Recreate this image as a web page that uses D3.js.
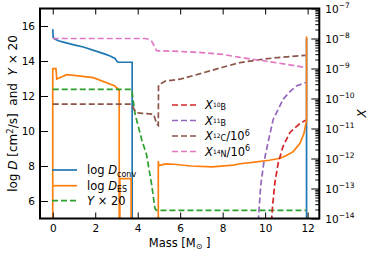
<!DOCTYPE html>
<html><head><meta charset="utf-8">
<script src="https://cdn.jsdelivr.net/npm/d3@7"></script>
<style>
body{margin:0;background:#fff;}
svg{display:block;font-family:"DejaVu Sans",sans-serif;}
</style></head>
<body><svg id="c" width="374" height="254"></svg>
<script>
// ---- data (mass in Msun) ----
const blueMass = [0, 0.02, 0.1, 0.26, 0.5, 1.0, 1.44, 2.07, 2.5, 2.7, 2.93, 3.04, 3.13, 3.74, 3.74, 11.95, 11.95];
const blueVal  = [15.82, 15.35, 15.25, 15.16, 15.08, 14.92, 14.8, 14.55, 14.38, 14.29, 14.15, 13.96, 13.93, 13.93, 3, 3, 15.3];

const orangeMass = [0, 0, 0.15, 0.19, 0.66, 1.2, 1.91, 2.93, 3.09, 3.13, 3.13, 3.16, 3.16, 3.69, 3.69, 4.97, 4.97, 4.99, 5.3, 5.7, 6.5, 7.5, 8.5, 8.82, 9.5, 10.2, 10.7, 11.0, 11.32, 11.64, 11.83, 11.92, 11.95, 11.95];
const orangeVal  = [3, 13.56, 13.58, 12.97, 13.22, 13.15, 13.05, 12.57, 12.38, 12.3, 3, 3, 7.28, 7.28, 3, 3, 8.28, 8.02, 8.12, 8.1, 8.0, 7.95, 8.05, 8.13, 8.22, 8.33, 8.44, 8.6, 8.82, 9.3, 9.87, 10.44, 10.6, 15.4];

const greenMass = [0, 3.72, 3.87, 4.19, 4.42, 4.66, 4.81, 4.88, 11.92];
const greenVal  = [12.38, 12.38, 11.0, 9.5, 8.63, 6.91, 5.58, 5.47, 5.47];

const redMass = [10.30, 10.35, 10.46, 10.62, 10.85, 11.17, 11.40, 11.60, 11.75, 11.90];
const redX    = [7.9e-15, 2.6e-14, 1.6e-13, 7.4e-13, 2.6e-12, 7.4e-12, 1.05e-11, 1.38e-11, 1.62e-11, 1.9e-11];

const purpleMass = [9.68, 9.72, 9.79, 9.94, 10.15, 10.38, 10.54, 10.85, 11.2, 11.47, 11.9];
const purpleX    = [8e-15, 2.3e-14, 1.23e-13, 7.4e-13, 3.8e-12, 2.0e-11, 3.4e-11, 9.5e-11, 1.8e-10, 2.6e-10, 3.4e-10];

const brownMass = [0, 3.72, 3.9, 4.2, 4.75, 4.9, 4.97, 4.98, 5.3, 6.0, 7.0, 8.0, 8.82, 10.0, 11.0, 11.9];
const brownX    = [6.5e-11, 6.5e-11, 3.4e-11, 3.2e-11, 3.0e-11, 1.4e-11, 1.26e-11, 2.8e-10, 3.8e-10, 4.4e-10, 6.9e-10, 1.1e-9, 1.58e-9, 2.1e-9, 2.45e-9, 2.75e-9];

const pinkMass = [0, 4.34, 4.55, 4.66, 4.81, 4.89, 6.0, 7.0, 8.0, 8.82, 10.0, 11.0, 11.9];
const pinkX    = [1e-8, 1e-8, 9.3e-9, 8.1e-9, 5.1e-9, 3.9e-9, 3.7e-9, 3.4e-9, 2.95e-9, 2.34e-9, 1.78e-9, 1.38e-9, 1.07e-9];

const xTicks = [0, 2, 4, 6, 8, 10, 12];
const yTicks = [6, 8, 10, 12, 14, 16];
const rExps  = [-14, -13, -12, -11, -10, -9, -8, -7];

// ---- layout ----
const L = 40, R = 319.3, T = 8.5, B = 218.5;
const svg = d3.select("#c");
const x = d3.scaleLinear().domain([-0.6, 12.55]).range([L, R]);
const yL = d3.scaleLinear().domain([5, 17]).range([B, T]);
const yR = d3.scaleLog().domain([1e-14, 1e-7]).range([B, T]);

svg.append("clipPath").attr("id","clip").append("rect")
  .attr("x", L).attr("y", T).attr("width", R-L).attr("height", B-T);
const g = svg.append("g").attr("clip-path","url(#clip)");

function lin(ms, vs, color, dash){
  const data = ms.map((m,i)=>[m, vs[i]]);
  g.append("path").datum(data)
    .attr("d", d3.line().x(d=>x(d[0])).y(d=>yL(d[1])))
    .attr("fill","none").attr("stroke",color).attr("stroke-width",1.7)
    .attr("stroke-dasharray", dash||null);
}
function lg(ms, vs, color){
  const data = ms.map((m,i)=>[m, vs[i]]);
  g.append("path").datum(data)
    .attr("d", d3.line().x(d=>x(d[0])).y(d=>yR(d[1])))
    .attr("fill","none").attr("stroke",color).attr("stroke-width",1.7)
    .attr("stroke-dasharray","6,3");
}
const C = {blue:"#1f77b4", orange:"#ff7f0e", green:"#2ca02c", red:"#d62728", purple:"#9467bd", brown:"#8c564b", pink:"#e377c2"};

lin(blueMass, blueVal, C.blue);
lin(orangeMass, orangeVal, C.orange);
lin(greenMass, greenVal, C.green, "6,3");
lg(redMass, redX, C.red);
lg(purpleMass, purpleX, C.purple);
lg(brownMass, brownX, C.brown);
lg(pinkMass, pinkX, C.pink);

// ---- axes ----
const ax = svg.append("g");
const xb = ax.append("g").attr("transform",`translate(0,${B})`)
  .call(d3.axisBottom(x).tickValues(xTicks).tickSizeInner(-6).tickSizeOuter(0).tickPadding(6));
const xt = ax.append("g").attr("transform",`translate(0,${T})`)
  .call(d3.axisTop(x).tickValues(xTicks).tickSizeInner(-6).tickSizeOuter(0).tickFormat(""));
const yl = ax.append("g").attr("transform",`translate(${L},0)`)
  .call(d3.axisLeft(yL).tickValues(yTicks).tickSizeInner(-8).tickSizeOuter(0).tickPadding(5));
const minors = [];
for (let e=-14; e<-7; e++) for (let k=2;k<10;k++) minors.push(k*Math.pow(10,e));
const yrm = ax.append("g").attr("transform",`translate(${R},0)`)
  .call(d3.axisRight(yR).tickValues(minors).tickSizeInner(-4).tickSizeOuter(0).tickFormat(""));
const yr = ax.append("g").attr("transform",`translate(${R},0)`)
  .call(d3.axisRight(yR).tickValues(rExps.map(e=>Math.pow(10,e))).tickSizeInner(-8).tickSizeOuter(0).tickPadding(5).tickFormat(""));
ax.selectAll(".domain").remove();
ax.selectAll(".tick line").attr("stroke","#000").attr("stroke-width",1);
xb.selectAll("text").attr("font-size",10.5).attr("fill","#000").attr("font-family","DejaVu Sans");
yl.selectAll("text").attr("font-size",10.5).attr("fill","#000").attr("font-family","DejaVu Sans");
yr.selectAll(".tick").each(function(d,i){
  const t = d3.select(this).append("text").attr("x",6).attr("dy","0.35em")
    .attr("font-size",10.5).attr("fill","#000").attr("font-family","DejaVu Sans");
  t.append("tspan").text("10");
  t.append("tspan").attr("dy",-4.5).attr("font-size",7.5).text("\u2212"+Math.abs(rExps[i]));
});
svg.append("rect").attr("x",L).attr("y",T).attr("width",R-L).attr("height",B-T)
  .attr("fill","none").attr("stroke","#000").attr("stroke-width",2);

// ---- labels ----
const xl = svg.append("text").attr("x",(L+R)/2).attr("y",246.5).attr("text-anchor","middle")
  .attr("font-size",11.5);
xl.append("tspan").text("Mass [M");
xl.append("tspan").attr("font-size",8).attr("dy",2).text("\u2299");
xl.append("tspan").attr("dy",-2).text("\u00a0]");

const ylab = svg.append("text").attr("transform",`translate(17,${(T+B)/2}) rotate(-90)`)
  .attr("text-anchor","middle").attr("font-size",12);
ylab.append("tspan").text("log\u00a0");
ylab.append("tspan").attr("font-style","italic").text("D");
ylab.append("tspan").text("\u00a0[cm");
ylab.append("tspan").attr("font-size",8.5).attr("dy",-4).text("2");
ylab.append("tspan").attr("dy",4).text("/s]\u00a0\u00a0and\u00a0\u00a0");
ylab.append("tspan").attr("font-style","italic").text("Y");
ylab.append("tspan").text("\u00a0\u00d7\u00a020");

svg.append("text").attr("transform",`translate(362,${(T+B)/2}) rotate(-90)`)
  .attr("text-anchor","middle").attr("dy","0.35em").attr("font-size",12).attr("font-style","italic").text("X");

// ---- legend 1 ----
const leg1 = [
  {c:C.blue, d:null, parts:[["log\u00a0",null],["D","i"],["conv","sub"]]},
  {c:C.orange, d:null, parts:[["log\u00a0",null],["D","i"],["ES","sub"]]},
  {c:C.green, d:"6,3", parts:[["Y","i"],["\u00a0\u00d7\u00a020",null]]}
];
const leg1Y = [170, 185.7, 200.7];
function writeParts(t, parts){
  parts.forEach(p=>{
    const s = t.append("tspan").text(p[0]);
    if(p[1]==="i") s.attr("font-style","italic");
    if(p[1]==="sub") { s.attr("font-size",8).attr("dy",2.5); }
  });
}
leg1.forEach((e,i)=>{
  const yy = leg1Y[i];
  svg.append("line").attr("x1",52).attr("x2",77).attr("y1",yy).attr("y2",yy)
    .attr("stroke",e.c).attr("stroke-width",1.7).attr("stroke-dasharray",e.d);
  const t = svg.append("text").attr("x",87).attr("y",yy).attr("dy","0.35em").attr("font-size",11.5);
  writeParts(t, e.parts);
});

// ---- legend 2 ----
const leg2 = [
  {c:C.red, iso:"10", el:"B", tail:false},
  {c:C.purple, iso:"11", el:"B", tail:false},
  {c:C.brown, iso:"12", el:"C", tail:true},
  {c:C.pink, iso:"14", el:"N", tail:true}
];
const leg2Y = [105, 120.5, 136, 151.5];
leg2.forEach((e,i)=>{
  const yy = leg2Y[i];
  svg.append("line").attr("x1",172).attr("x2",197).attr("y1",yy).attr("y2",yy)
    .attr("stroke",e.c).attr("stroke-width",1.7).attr("stroke-dasharray","6,3");
  const t = svg.append("text").attr("x",205).attr("y",yy+4).attr("font-size",11.5);
  t.append("tspan").attr("font-style","italic").text("X");
  t.append("tspan").attr("font-size",6).attr("dy",-2).text(e.iso);
  t.append("tspan").attr("font-size",8).attr("dy",3).text(e.el);
  if(e.tail){
    t.append("tspan").attr("dy",-1).text("/10");
    t.append("tspan").attr("font-size",8).attr("dy",-4.5).text("6");
  }
});
</script></body></html>
